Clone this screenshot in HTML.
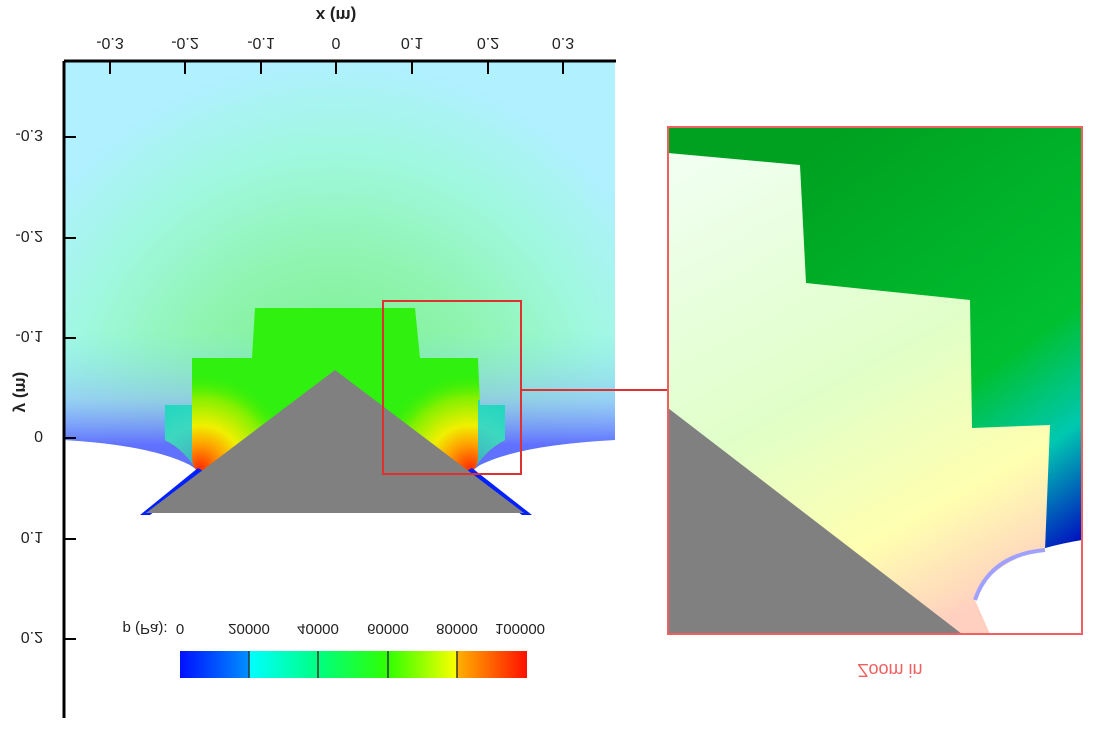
<!DOCTYPE html><html><head><style>body{margin:0;background:#fff}svg{display:block}text{font-family:"Liberation Sans",sans-serif}</style></head><body>
<svg width="1093" height="729" viewBox="0 0 1093 729">
<defs>
<radialGradient id="bg" cx="335" cy="420" r="360" gradientUnits="userSpaceOnUse">
<stop offset="0" stop-color="#70f080"/><stop offset="0.45" stop-color="#90f4b0"/><stop offset="0.75" stop-color="#a0f8e0"/><stop offset="1" stop-color="#b0f0ff"/></radialGradient>
<linearGradient id="bot" x1="0" y1="330" x2="0" y2="445" gradientUnits="userSpaceOnUse"><stop offset="0" stop-color="#80e8f0" stop-opacity="0"/><stop offset="0.6" stop-color="#90b8ff" stop-opacity="0.6"/><stop offset="1" stop-color="#6070ff"/></linearGradient>
<radialGradient id="hotL" cx="200" cy="468" r="95" gradientUnits="userSpaceOnUse"><stop offset="0" stop-color="#ff3000"/><stop offset="0.25" stop-color="#ffa000"/><stop offset="0.45" stop-color="#f0f000"/><stop offset="0.75" stop-color="#80f000"/><stop offset="1" stop-color="#30f000" stop-opacity="0"/></radialGradient>
<radialGradient id="hotR" cx="470" cy="468" r="95" gradientUnits="userSpaceOnUse"><stop offset="0" stop-color="#ff3000"/><stop offset="0.25" stop-color="#ffa000"/><stop offset="0.45" stop-color="#f0f000"/><stop offset="0.75" stop-color="#80f000"/><stop offset="1" stop-color="#30f000" stop-opacity="0"/></radialGradient>
<linearGradient id="cb" x1="180" x2="527" y1="0" y2="0" gradientUnits="userSpaceOnUse">
<stop offset="0" stop-color="#0010ff"/><stop offset="0.2" stop-color="#0090ff"/><stop offset="0.2" stop-color="#00ffff"/><stop offset="0.4" stop-color="#00ff80"/><stop offset="0.6" stop-color="#30ff00"/><stop offset="0.8" stop-color="#ffff00"/><stop offset="0.8" stop-color="#ffb000"/><stop offset="1" stop-color="#ff1000"/></linearGradient>
<linearGradient id="zl" x1="700" y1="160" x2="950" y2="620" gradientUnits="userSpaceOnUse"><stop offset="0" stop-color="#f0fff0"/><stop offset="0.5" stop-color="#e0ffc8"/><stop offset="0.8" stop-color="#ffffb0"/><stop offset="1" stop-color="#ffd0c0"/></linearGradient>
<linearGradient id="zg" x1="800" y1="150" x2="1082" y2="540" gradientUnits="userSpaceOnUse"><stop offset="0" stop-color="#00a020"/><stop offset="0.6" stop-color="#00c030"/><stop offset="0.8" stop-color="#00c8b0"/><stop offset="1" stop-color="#0010c0"/></linearGradient>
<clipPath id="gc"><path d="M165,405 L192,405 L192,358 L252,358 L255,308 L415,308 L420,358 L478,358 L480,405 L505,405 L505,440 Q485,450 474,470 L196,470 Q185,450 165,440 Z"/></clipPath>
</defs>
<path d="M64,62 H615 V440 Q520,445 480,465 L470,472 L200,472 L190,465 Q150,445 64,440 Z" fill="url(#bg)"/>
<path d="M64,330 H615 V440 Q520,445 480,465 L470,472 L200,472 L190,465 Q150,445 64,440 Z" fill="url(#bot)"/>
<g clip-path="url(#gc)">
<rect x="160" y="300" width="350" height="175" fill="#30f010"/>
<rect x="160" y="300" width="350" height="175" fill="url(#hotL)"/>
<rect x="160" y="300" width="350" height="175" fill="url(#hotR)"/>
<path d="M160,400 L192,400 L192,455 Q192,470 200,472 L160,472Z" fill="#00d0ff" opacity="0.75"/>
<path d="M510,400 L478,400 L478,455 Q478,470 470,472 L510,472Z" fill="#00d0ff" opacity="0.75"/>
</g>
<polygon points="198,468 140,515 150,515 205,472" fill="#0020ff"/>
<polygon points="472,468 532,515 522,515 465,472" fill="#0020ff"/>
<polygon points="335,370 146,513 524,513" fill="#808080"/>
<rect x="383" y="301" width="138" height="173" fill="none" stroke="#e03030" stroke-width="2"/>
<line x1="521" y1="390" x2="667" y2="390" stroke="#e03030" stroke-width="2"/>
<line x1="64" y1="61" x2="616" y2="61" stroke="#000" stroke-width="3"/>
<line x1="64" y1="61" x2="64" y2="718" stroke="#000" stroke-width="3"/>
<g stroke="#000" stroke-width="2">
<line x1="110" y1="61" x2="110" y2="74"/><line x1="185" y1="61" x2="185" y2="74"/><line x1="261" y1="61" x2="261" y2="74"/><line x1="336" y1="61" x2="336" y2="74"/><line x1="412" y1="61" x2="412" y2="74"/><line x1="488" y1="61" x2="488" y2="74"/><line x1="563" y1="61" x2="563" y2="74"/>
<line x1="64" y1="137" x2="76" y2="137"/><line x1="64" y1="238" x2="76" y2="238"/><line x1="64" y1="338" x2="76" y2="338"/><line x1="64" y1="438" x2="76" y2="438"/><line x1="64" y1="539" x2="76" y2="539"/><line x1="64" y1="639" x2="76" y2="639"/>
</g>
<g font-size="16" fill="#222" text-anchor="middle">
<g transform="translate(0,82) scale(1,-1)"><text x="110" y="44">-0.3</text><text x="185" y="44">-0.2</text><text x="261" y="44">-0.1</text><text x="336" y="44">0</text><text x="412" y="44">0.1</text><text x="488" y="44">0.2</text><text x="563" y="44">0.3</text></g>
<text transform="translate(0,91) scale(1,-1)" x="336" y="81" font-weight="bold" font-size="17">x (m)</text>
<g text-anchor="end"><text transform="translate(0,261) scale(1,-1)" x="43" y="131">-0.3</text><text transform="translate(0,463) scale(1,-1)" x="43" y="232">-0.2</text><text transform="translate(0,663) scale(1,-1)" x="43" y="332">-0.1</text><text transform="translate(0,863) scale(1,-1)" x="43" y="432">0</text><text transform="translate(0,1065) scale(1,-1)" x="43" y="533">0.1</text><text transform="translate(0,1265) scale(1,-1)" x="43" y="633">0.2</text></g>
<text transform="translate(22,392) rotate(-90) scale(1,-1)" x="0" y="6" font-weight="bold" font-size="17">y (m)</text>
</g>
<rect x="180" y="651" width="347" height="27" fill="url(#cb)"/>
<g stroke="#333" stroke-width="1.5"><line x1="249" y1="651" x2="249" y2="678"/><line x1="318" y1="651" x2="318" y2="678"/><line x1="388" y1="651" x2="388" y2="678"/><line x1="457" y1="651" x2="457" y2="678"/></g>
<g transform="translate(0,1262) scale(1,-1)" font-size="15" fill="#222" text-anchor="middle"><text x="180" y="638">0</text><text x="249" y="638">20000</text><text x="318" y="638">40000</text><text x="388" y="638">60000</text><text x="457" y="638">80000</text><text x="520" y="638">100000</text><text x="145" y="638">p (Pa):</text></g>
<rect x="668" y="127" width="414" height="507" fill="url(#zg)"/>
<path d="M668,153 L800,165 L806,283 L970,300 L972,428 L1050,425 L1045,550 L1000,580 L980,600 L990,634 L668,634 Z" fill="url(#zl)"/>
<path d="M975,600 Q990,555 1082,540 V634 H990 Z" fill="#fff"/>
<path d="M975,600 Q990,555 1045,550" fill="none" stroke="#a0a0ff" stroke-width="4"/>
<polygon points="668,408 962,634 668,634" fill="#808080"/>
<rect x="668" y="127" width="414" height="507" fill="none" stroke="#f06060" stroke-width="2"/>
<text transform="translate(0,1316) scale(1,-1)" x="890" y="652" font-size="18" fill="#f06060" text-anchor="middle">Zoom in</text>
</svg></body></html>
